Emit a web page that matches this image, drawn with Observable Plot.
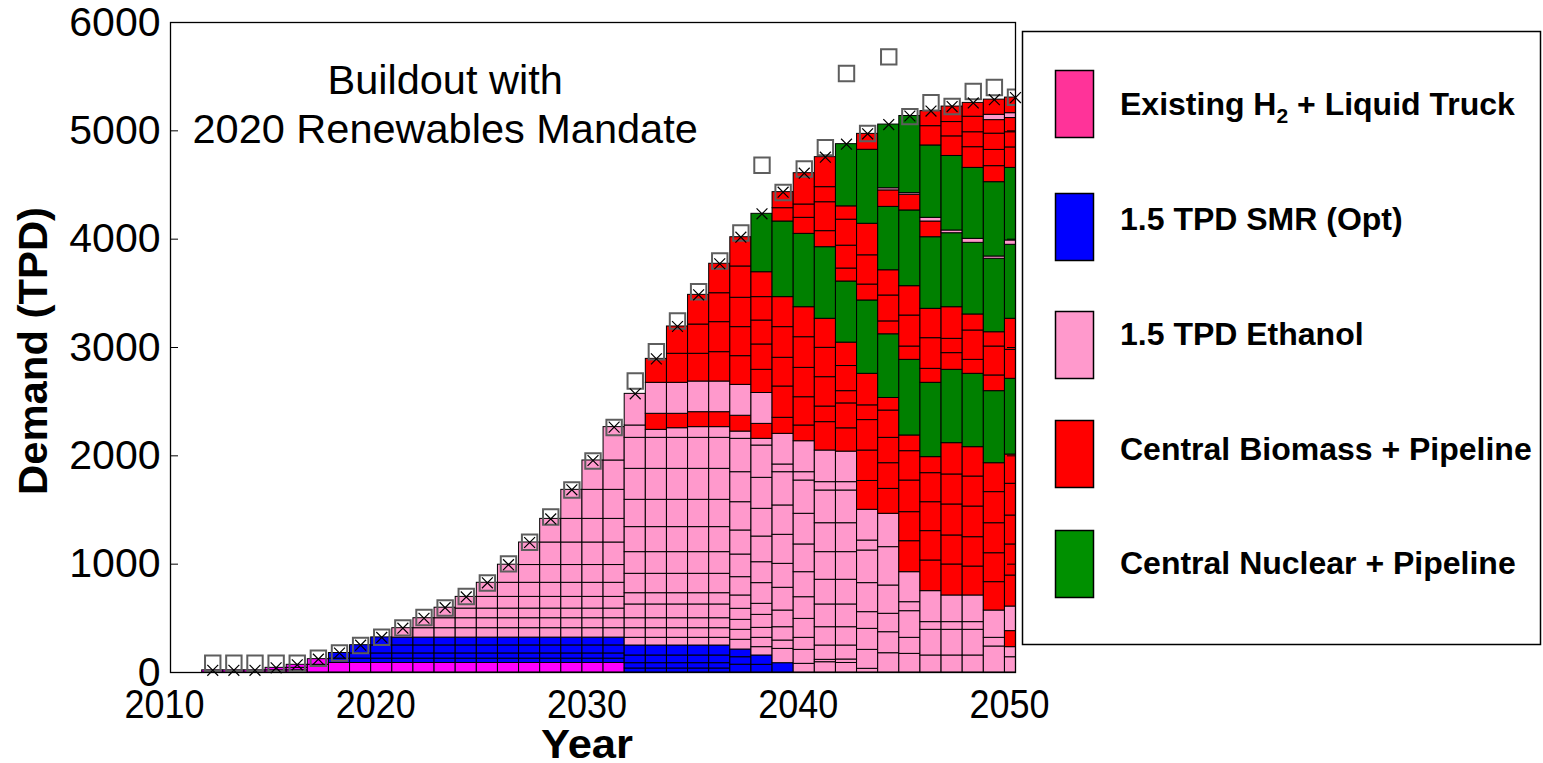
<!DOCTYPE html>
<html><head><meta charset="utf-8">
<script src="https://cdn.jsdelivr.net/npm/d3@7"></script>
<script src="https://cdn.jsdelivr.net/npm/@observablehq/plot@0.6"></script>
<style>
body{margin:0;background:#fff;}
#chart{position:relative;width:1543px;height:763px;}
</style></head><body><div id="chart"></div>
<script>
// ---------- data ----------
const years = [2012,2013,2014,2015,2016,2017,2018,2019,2020,2021,2022,2023,2024,2025,2026,2027,2028,2029,2030,2031,2032,2033,2034,2035,2036,2037,2038,2039,2040,2041,2042,2043,2044,2045,2046,2047,2048,2049,2050];

// each token = category code + cumulative top (TPD), bottom to top
const stacks = [
"E20",
"E20",
"E20",
"E20 E43",
"E20 E43 E71",
"E71 E123",
"E88 S128 S180",
"E88 S128 S176 S252",
"E88 S128 S176 S250 S324",
"E88 S128 S176 S250 S322 P409",
"E88 S128 S176 S250 S322 P409 P501",
"E88 S128 S176 S250 S322 P409 P501 P598",
"E88 S128 S176 S250 S322 P409 P501 P590 P698",
"E88 S128 S176 S250 S322 P409 P501 P590 P698 P828",
"E88 S128 S176 S250 S322 P409 P501 P590 P698 P828 P995",
"E88 S128 S176 S250 S322 P409 P501 P590 P698 P828 P992 P1200",
"E88 S128 S176 S250 S322 P409 P501 P590 P698 P828 P992 P1200 P1418",
"E88 S128 S176 S250 S322 P409 P501 P590 P698 P828 P992 P1200 P1418 P1686",
"E88 S128 S176 S250 S322 P409 P501 P590 P698 P828 P992 P1200 P1418 P1686 P1957",
"E88 S128 S176 S250 S322 P409 P501 P590 P698 P828 P992 P1200 P1418 P1686 P1957 P2265",
"S37 S86 S157 S249 P320 P409 P501 P628 P732 P911 P1111 P1342 P1594 P1880 P2166 P2280 P2572",
"S37 S86 S157 S249 P320 P409 P501 P628 P732 P911 P1111 P1342 P1594 P1880 P2166 P2240 R2388 P2674 R2895",
"S37 S86 S157 S249 P320 P409 P501 P628 P732 P911 P1111 P1342 P1594 P1880 P2166 P2255 R2388 P2674 R2942 R3194",
"S37 S86 S157 S249 P320 P409 P501 P628 P732 P911 P1111 P1342 P1594 P1880 P2166 P2265 R2403 P2686 R2942 R3212 R3486",
"S37 S86 S157 S249 P320 P409 P501 P628 P732 P911 P1111 P1342 P1594 P1880 P2166 P2265 R2403 P2686 R2957 R3234 R3501 R3773",
"S72 S141 S212 P302 P394 P486 P588 P711 P880 P1089 P1311 P1572 P1849 P2157 P2224 R2370 P2655 R2920 R3188 R3459 R3748 R4018",
"S71 S157 P234 P320 P412 P532 P634 P825 P1018 P1255 P1511 P1797 P2095 P2157 R2295 P2580 R2794 R3028 R3249 R3465 R3695 G4234",
"S86 P218 P295 P418 P572 P782 P1003 P1271 P1542 P1849 P1920 P2203 R2351 R2640 R2905 R3188 R3465 G4163 R4286 R4434",
"P80 P209 P320 P495 P695 P926 P1182 P1465 P1772 P1849 P2135 R2280 R2541 R2812 R3095 R3372 G4049 R4197 R4320 R4609",
"P95 P117 P249 P418 P628 P856 P1111 P1378 P1680 P1757 P2049 R2311 R2455 R2726 R2997 R3265 G3926 R4074 R4341 R4480 R4757",
"P88 P120 P249 P418 P628 P856 P1111 P1378 P1680 P1757 P2039 R2254 R2484 R2597 R2829 R3045 G3609 R3729 R3940 R4180 R4303 G4877",
"P34 P209 P403 P557 P825 P1126 P1218 P1502 R1768 R2049 R2330 R2466 R2757 G3434 R3581 R3851 R4142 G4825 R4972",
"P178 P372 P542 P803 P1157 P1465 R1695 R1932 R2166 R2418 R2534 G3122 R3241 R3480 R3713 G4298 R4450 P4470 G5058",
"P172 P320 P566 P649 P926 R1212 R1480 R1772 R2043 R2188 G2886 R3009 R3295 R3566 G4265 R4410 P4425 G5137",
"P157 P394 P465 P751 R1034 R1305 R1572 R1840 R1988 G2674 R2803 R3086 R3357 G4018 R4163 P4197 G4865 R5043 R5182",
"P157 P394 P465 P711 R997 R1265 R1551 R1828 R2117 G2794 R2948 R3080 R3372 G4055 P4080 G4768 R4949 R5081 R5224",
"P157 P394 P465 P711 R978 R1249 R1532 R1809 R2080 G2757 R2886 R3157 R3305 G3966 P4003 G4658 R4849 R4987 R5130 R5258",
"P240 P320 P572 R834 R1101 R1378 R1665 R1932 G2597 R2742 R3009 R3141 G3819 P3840 G4526 R4674 R4824 R4974 R5099 P5148 R5288",
"P141 P234 R382 P609 R895 R1182 R1449 R1742 R2012 G2711 R2978 R3265 G3948 P3988 G4658 R4847 R4987 R5118 P5163 R5307"
];

// open squares (demand), one per year
const demand = [85,85,85,85,85,131,180,249,325,412,508,595,702,826,1003,1202,1435,1685,1952,2262,2691,2960,3245,3514,3798,4057,4683,4431,4648,4845,5529,4975,5683,5131,5259,5225,5363,5400,5310];

const catCodes = ["E","S","P","R","G"];
const barColors = ["#FF00FF","#0000FF","#FF99CC","#FF0000","#008000"];
const legendColors = ["#FF3399","#0000FF","#FF99CC","#FF0000","#009000"];
const legendLabels = ["Existing H2 + Liquid Truck","1.5 TPD SMR (Opt)","1.5 TPD Ethanol","Central Biomass + Pipeline","Central Nuclear + Pipeline"];
const xTicks = [2010,2020,2030,2040,2050];
const yTicks = [0,1000,2000,3000,4000,5000,6000];
const titleLines = ["Buildout with","2020 Renewables Mandate"];

// ---------- build tables ----------
const pieces = [];
const totals = [];
years.forEach((yr, i) => {
  let prev = 0;
  stacks[i].split(" ").forEach(tok => {
    const top = +tok.slice(1);
    pieces.push({year: yr, cat: tok[0], y1: prev, y2: top});
    prev = top;
  });
  totals.push({year: yr, total: prev});
});
const demandData = years.map((yr, i) => ({year: yr, value: demand[i]}));

const FONT = "'Liberation Sans', Arial, Helvetica, sans-serif";

const chart = Plot.plot({
  width: 1543, height: 763,
  marginLeft: 170, marginRight: 528, marginTop: 22, marginBottom: 91,
  style: {fontFamily: FONT, background: "#fff", color: "#000"},
  x: {domain: [2010, 2050]},
  y: {domain: [0, 6000]},
  color: {domain: catCodes, range: barColors},
  marks: [
    Plot.rect(pieces, {x1: d => d.year - 0.5, x2: d => d.year + 0.5, y1: "y1", y2: "y2",
      fill: "cat", stroke: "#000", strokeWidth: 1, clip: true}),
    Plot.dot(demandData, {x: "year", y: "value", symbol: "square", r: 8.7, fill: "none",
      stroke: "#5e5e5e", strokeWidth: 2, clip: true}),
    Plot.dot(totals, {x: "year", y: "total", symbol: "times", r: 5, stroke: "#000", strokeWidth: 1.2}),
    Plot.text([titleLines.join("\n")], {x: 2023, y: 5260, text: d => d, fontSize: 41.5, lineHeight: 1.2, fill: "#000"}),
    Plot.tickY(yTicks, {y: d => d, stroke: "#000", insetRight: 837}),
    Plot.tickY(yTicks, {y: d => d, stroke: "#000", insetLeft: 837}),
    Plot.frame({stroke: "#000", strokeWidth: 1.3}),
    Plot.axisX(xTicks, {tickSize: 0, tickPadding: 16, fontSize: 41, dx: -6, tickFormat: d => String(d), label: null}),
    Plot.axisY(yTicks, {tickSize: 0, tickPadding: 10, fontSize: 41, tickFormat: d => String(d), label: null})
  ]
});
document.getElementById("chart").appendChild(chart);

// ---------- post layout: axis titles & legend ----------
const svg = d3.select(chart);
svg.selectAll('g[aria-label="x-axis tick label"] text')
  .attr("textLength", 80).attr("lengthAdjust", "spacingAndGlyphs");

svg.append("text").attr("x", 587).attr("y", 758).attr("text-anchor", "middle")
  .attr("font-family", FONT).attr("font-weight", "bold").attr("font-size", 40)
  .attr("textLength", 92).attr("lengthAdjust", "spacingAndGlyphs").text("Year");
svg.append("text").attr("transform", "translate(47,351) rotate(-90)").attr("text-anchor", "middle")
  .attr("font-family", FONT).attr("font-weight", "bold").attr("font-size", 40)
  .attr("textLength", 288).attr("lengthAdjust", "spacingAndGlyphs").text("Demand (TPD)");

const lg = svg.append("g").attr("font-family", FONT).attr("text-anchor", "start");
lg.append("rect").attr("x", 1022.5).attr("y", 31.5).attr("width", 518).attr("height", 613)
  .attr("fill", "#fff").attr("stroke", "#000").attr("stroke-width", 1.5);
const swTop = [70, 193, 311, 420, 530];
const txtMid = [103, 218, 333, 448, 562];
legendLabels.forEach((lab, i) => {
  lg.append("rect").attr("x", 1055.5).attr("y", swTop[i] + 0.5).attr("width", 38).attr("height", 67)
    .attr("fill", legendColors[i]).attr("stroke", "#000").attr("stroke-width", 1.5);
  const t = lg.append("text").attr("x", 1120).attr("y", txtMid[i] + 11.5).attr("text-anchor", "start")
    .attr("font-size", 32).attr("font-weight", "bold").attr("fill", "#000");
  const m = lab.match(/^(.*H)2(.*)$/);
  if (m) {
    t.append("tspan").text(m[1]);
    t.append("tspan").attr("font-size", 21).attr("dy", 8).text("2");
    t.append("tspan").attr("dy", -8).text(m[2]);
  } else t.text(lab);
});
</script></body></html>
